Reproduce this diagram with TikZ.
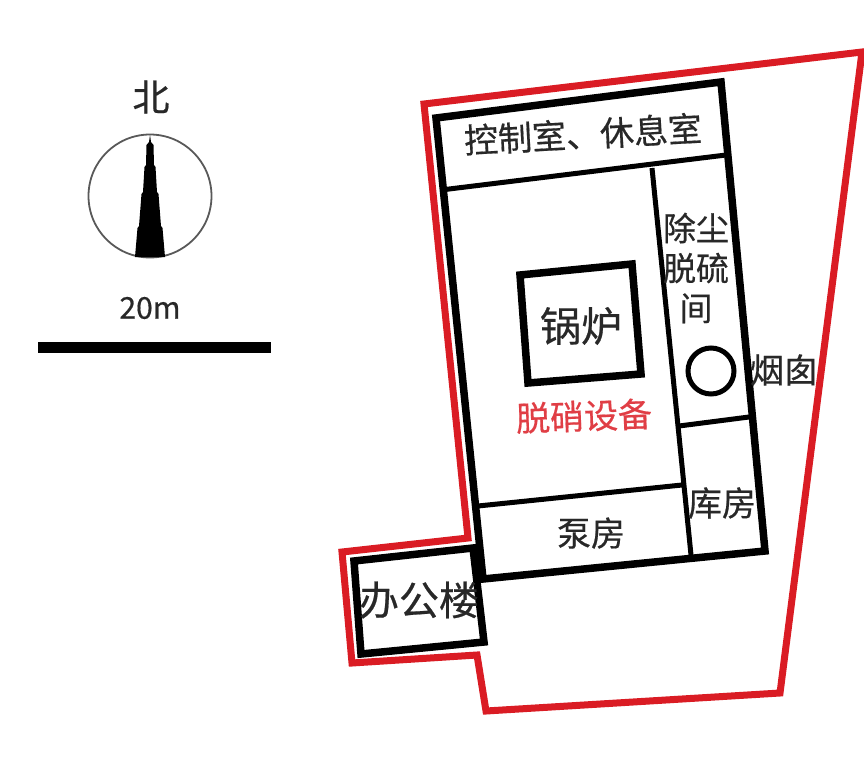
\documentclass[tikz,border=0pt]{standalone}
\usepackage{fontspec}
\setmainfont[FakeBold=0.5]{Noto Sans CJK SC}
\usetikzlibrary{positioning}
\definecolor{wallred}{RGB}{218,28,36}
\definecolor{inkgrey}{RGB}{40,40,40}
\tikzset{
	label/.style={font=\fontsize{34pt}{36pt}\selectfont, text=inkgrey, inner sep=0pt},
	bigwall/.style={line width=7.5pt, line join=miter},
	thinwall/.style={line width=5pt},
}
\begin{document}
\begin{tikzpicture}[x=1pt, y=-1pt]
		\useasboundingbox (0,0) rectangle (864,760);
		% Boundary
		\draw[wallred, line width=7pt, line join=miter] (424,104) -- (862,52) -- (780,693) -- (486,711) -- (477,655) -- (352,663) -- (342,552) -- (468,538) -- cycle;
		
		% Building
		\draw[bigwall] (436,118) -- (721,82) -- (765,551) -- (483,579) -- cycle;
		\draw[thinwall] (441,190) -- (726,155);
		\draw[thinwall] (652,168) -- (691,555);
		\draw[thinwall] (679,426) -- (749,417);
		\draw[thinwall] (478,506) -- (682,485);
		
		% Office
		\draw[bigwall, fill=white] (354,561) -- (473,548) -- (484,642) -- (361,654) -- cycle;
		
		% Boiler and chimney
		\draw[bigwall] (520,275) -- (632,264) -- (641,374) -- (528,383) -- cycle;
		\draw[line width=5pt] (711,371) circle (23);
		
		% North arrow
		\draw[line width=1.8pt, black!65] (150,196) circle (61.5);
		\fill (150,135) -- (151,142) -- (153.5,145) -- (154,165) -- (155.5,167) -- (157,192) -- (158.5,194) -- (161,226) -- (162.5,228) -- (165,257) -- (135,257) -- (137.5,228) -- (139,226) -- (141.5,194) -- (143,192) -- (144.5,167) -- (146,165) -- (146.5,145) -- (149,142) -- cycle;
		\node[label, font=\fontsize{37pt}{39pt}\selectfont] (north) at (151,97) {北};
		
		% Scale
		\node[label, font=\fontsize{30pt}{32pt}\selectfont] (scale) at (150,308) {20m};
		\fill (38,342) rectangle (271,353);
		
		% Labels
		\node[label, rotate=3] (control) at (583,134) {控制室、休息室};
		\node[label, align=center, font=\fontsize{33pt}{40pt}\selectfont] (dust) at (696,268) {除尘\\脱硫\\间};
		\node[label, font=\fontsize{41pt}{43pt}\selectfont] (boiler) at (581,326) {锅炉};
		\node[label, text=wallred!85!white, rotate=2] (denox) at (584,416) {脱硝设备};
		\node[label] (flue) at (784,370) {烟囱};
		\node[label] (store) at (722,503) {库房};
		\node[label] (pump) at (591,533) {泵房};
		\node[label, font=\fontsize{40pt}{42pt}\selectfont] (office) at (419,600) {办公楼};
	\end{tikzpicture}
\end{document}
